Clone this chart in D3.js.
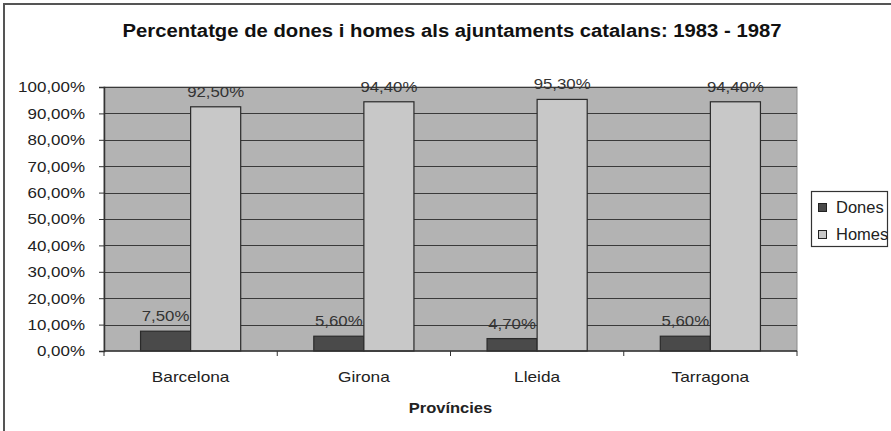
<!DOCTYPE html>
<html>
<head>
<meta charset="utf-8">
<script src="https://cdn.jsdelivr.net/npm/d3@7"></script>
<style>
  body { margin: 0; background: #fff; }
  svg { display: block; font-family: "Liberation Sans", Arial, sans-serif; }
</style>
</head>
<body>
<svg></svg>
<script>
const provincies = ['Barcelona', 'Girona', 'Lleida', 'Tarragona'];
const series = ['Dones', 'Homes'];
const dones = [7.5, 5.6, 4.7, 5.6];
const homes = [92.5, 94.4, 95.3, 94.4];
const yTicks = [0, 10, 20, 30, 40, 50, 60, 70, 80, 90, 100];

const width = 891;
const height = 431;
const colors = { Dones: '#4a4a4a', Homes: '#c8c8c8' };
const fmt = v => v.toFixed(2).replace('.', ',') + '%';

// the source image is slightly wider than tall, so text is stretched a bit
function stretch(sel, f) {
    sel.each(function() {
        const len = this.getComputedTextLength();
        d3.select(this)
            .attr('textLength', len * f)
            .attr('lengthAdjust', 'spacingAndGlyphs');
    });
}

const svg = d3.select('svg')
    .attr('width', width)
    .attr('height', height);

// outer chart border (cut off at right/bottom)
svg.append('rect')
    .attr('x', 4).attr('y', 4)
    .attr('width', width + 10).attr('height', height + 10)
    .attr('fill', '#fff')
    .attr('stroke', '#555')
    .attr('stroke-width', 2);

const plot = { left: 104, top: 87, right: 797, bottom: 351 };

const x = d3.scaleBand()
    .domain(provincies)
    .range([plot.left, plot.right])
    .paddingInner(0)
    .paddingOuter(0);

const xs = d3.scaleBand()
    .domain(series)
    .range([0, x.bandwidth()])
    .paddingInner(0)
    .paddingOuter(0.73);

const y = d3.scaleLinear()
    .domain([0, 100])
    .range([plot.bottom, plot.top]);

// plot area
svg.append('rect')
    .attr('x', plot.left).attr('y', plot.top)
    .attr('width', plot.right - plot.left)
    .attr('height', plot.bottom - plot.top)
    .attr('fill', '#b3b3b3')
    .attr('stroke', '#8a8a8a')
    .attr('stroke-width', 1);

// gridlines
svg.append('g')
    .selectAll('line')
    .data(yTicks.filter(d => d > 0))
    .enter().append('line')
    .attr('x1', plot.left).attr('x2', plot.right)
    .attr('y1', d => Math.round(y(d)) + 0.5)
    .attr('y2', d => Math.round(y(d)) + 0.5)
    .attr('stroke', '#3a3a3a')
    .attr('stroke-width', 1.2);

// bars
const rows = provincies.map((p, i) => ({ p, Dones: dones[i], Homes: homes[i] }));

const group = svg.append('g')
    .selectAll('g')
    .data(rows)
    .enter().append('g')
    .attr('transform', d => `translate(${x(d.p)},0)`);

group.selectAll('rect')
    .data(d => series.map(s => ({ s, v: d[s] })))
    .enter().append('rect')
    .attr('x', d => xs(d.s))
    .attr('y', d => y(d.v))
    .attr('width', xs.bandwidth())
    .attr('height', d => plot.bottom - y(d.v))
    .attr('fill', d => colors[d.s])
    .attr('stroke', '#2a2a2a')
    .attr('stroke-width', 1.2);

group.selectAll('text')
    .data(d => series.map(s => ({ s, v: d[s] })))
    .enter().append('text')
    .attr('x', d => xs(d.s) + xs.bandwidth() / 2)
    .attr('y', d => y(d.v) - 10)
    .attr('text-anchor', 'middle')
    .attr('font-size', 15)
    .attr('fill', '#333')
    .text(d => fmt(d.v))
    .call(stretch, 1.12);

// y axis
const yAxis = svg.append('g')
    .attr('transform', `translate(${plot.left},0)`)
    .call(d3.axisLeft(y).tickValues(yTicks).tickSize(5).tickPadding(14).tickFormat(fmt));
yAxis.select('.domain').attr('stroke', '#333').attr('stroke-width', 1.5);
yAxis.selectAll('.tick line').attr('stroke', '#333');
yAxis.selectAll('text')
    .attr('font-size', 15)
    .attr('fill', '#222')
    .attr('font-family', '"Liberation Sans", Arial, sans-serif')
    .call(stretch, 1.13);

// x axis: ticks on category boundaries
const xAxis = svg.append('g');
xAxis.append('line')
    .attr('x1', plot.left).attr('x2', plot.right)
    .attr('y1', plot.bottom).attr('y2', plot.bottom)
    .attr('stroke', '#333').attr('stroke-width', 1.5);
xAxis.selectAll('.tk')
    .data(provincies.map(p => x(p)).concat([plot.right]))
    .enter().append('line')
    .attr('class', 'tk')
    .attr('x1', d => d).attr('x2', d => d)
    .attr('y1', plot.bottom).attr('y2', plot.bottom + 5)
    .attr('stroke', '#333');
xAxis.selectAll('text')
    .data(provincies)
    .enter().append('text')
    .attr('x', d => x(d) + x.bandwidth() / 2)
    .attr('y', 382)
    .attr('text-anchor', 'middle')
    .attr('font-size', 15)
    .attr('fill', '#222')
    .text(d => d)
    .call(stretch, 1.15);

svg.append('text')
    .attr('x', (plot.left + plot.right) / 2)
    .attr('y', 413)
    .attr('text-anchor', 'middle')
    .attr('font-size', 15)
    .attr('font-weight', 'bold')
    .attr('fill', '#222')
    .text('Províncies')
    .call(stretch, 1.1);

// title
svg.append('text')
    .attr('x', 452)
    .attr('y', 37)
    .attr('text-anchor', 'middle')
    .attr('font-size', 18)
    .attr('font-weight', 'bold')
    .attr('fill', '#111')
    .text('Percentatge de dones i homes als ajuntaments catalans: 1983 - 1987')
    .call(sel => sel.attr('textLength', 659).attr('lengthAdjust', 'spacingAndGlyphs'));

// legend
const legend = svg.append('g');
legend.append('rect')
    .attr('x', 811.5).attr('y', 191.5)
    .attr('width', 76).attr('height', 55)
    .attr('fill', '#fff')
    .attr('stroke', '#333')
    .attr('stroke-width', 1.2);
const item = legend.selectAll('g')
    .data(series)
    .enter().append('g')
    .attr('transform', (d, i) => `translate(818.5,${203.5 + i * 27})`);
item.append('rect')
    .attr('width', 8).attr('height', 8)
    .attr('fill', d => colors[d])
    .attr('stroke', '#222');
item.append('text')
    .attr('x', 17.5)
    .attr('y', 9.5)
    .attr('font-size', 16)
    .attr('fill', '#222')
    .text(d => d)
    .call(stretch, 1.03);
</script>
</body>
</html>
